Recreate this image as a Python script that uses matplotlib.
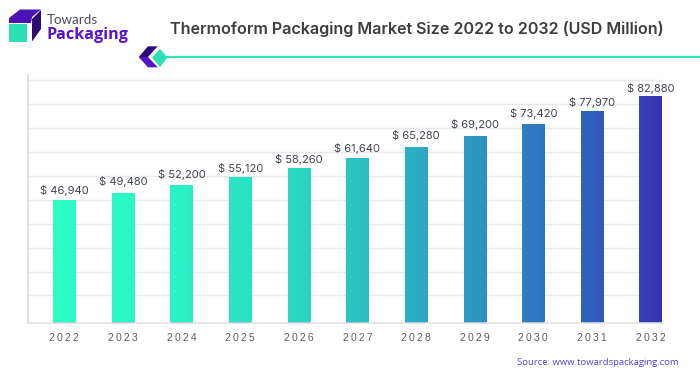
import numpy as np
import matplotlib
matplotlib.use('Agg')
import matplotlib.pyplot as plt
from matplotlib.colors import LinearSegmentedColormap
from matplotlib.patches import Polygon

years = ['2022', '2023', '2024', '2025', '2026', '2027', '2028', '2029', '2030', '2031', '2032']
values = [46940, 49480, 52200, 55120, 58260, 61640, 65280, 69200, 73420, 77970, 82880]
grid_values = [14460, 22407, 30700, 38993, 47286, 55580, 63873, 72166, 80460, 88753]
title = 'Thermoform Packaging Market Size 2022 to 2032 (USD Million)'
source = 'Source: www.towardspackaging.com'

# extra lift of each value label above its bar, in points
label_lift = [1.5, 2.2, 1.5, 0, 0, 0.7, 2.2, 2.2, 1.5, 0, 0]

W, H = 700, 375
fig = plt.figure(figsize=(W / 100, H / 100), dpi=100, facecolor='white')

# overlay in pixel coordinates for logo and header
bg = fig.add_axes([0, 0, 1, 1])
bg.set_xlim(0, W)
bg.set_ylim(H, 0)
bg.axis('off')

# main chart
ax = fig.add_axes([28 / W, (H - 322.5) / H, 634 / W, 247.5 / H])
ax.patch.set_alpha(0)
cmap = LinearSegmentedColormap.from_list('bars', [
    (0.0, '#2bffc6'), (0.2, '#2af0c6'), (0.4, '#29d4c2'), (0.6, '#2ca8c4'),
    (0.8, '#2f72bf'), (0.9, '#3255bb'), (1.0, '#3b2cb4')])

x = np.arange(len(years))
xlim = (-0.619, 10.196)
ylim = (5130, 90650)
bars = ax.bar(x, values, bottom=ylim[0], width=0.38, zorder=2)
for i, (bar, v) in enumerate(zip(bars, values)):
    bar.set_height(v - ylim[0])
    x0 = bar.get_x()
    x1 = x0 + bar.get_width()
    t0 = (x0 - x[0]) / (x[-1] - x[0] + 0.38)
    t1 = (x1 - x[0]) / (x[-1] - x[0] + 0.38)
    grad = np.linspace(t0, t1, 32).reshape(1, -1)
    ax.imshow(grad, extent=[x0, x1, ylim[0], v], aspect='auto', cmap=cmap,
              vmin=0, vmax=1, zorder=3)
    ax.annotate('$ {:,}'.format(v), (i, v), xytext=(0, 2.8 + label_lift[i]), textcoords='offset points',
                ha='center', va='bottom', fontsize=8.0, color='#3f4450', family='Inter', zorder=4)

ax.set_xlim(*xlim)
ax.set_ylim(*ylim)
ax.set_yticks(grid_values)
ax.set_yticklabels([])
ax.yaxis.grid(True, color='#e9e9e9', lw=1.0)
ax.set_axisbelow(True)
ax.tick_params(left=False, bottom=False)
ax.set_xticks(x)
ax.set_xticklabels([])
for i, y in enumerate(years):
    ax.annotate('\u2009'.join(y), (i, ylim[0]), xytext=(0, -7.8), textcoords='offset points',
                ha='center', va='top', fontsize=7.6, color='#5e5e62',
                family=['Liberation Sans', 'DejaVu Sans'], annotation_clip=False)
for s in ['top', 'right']:
    ax.spines[s].set_visible(False)
ax.spines['left'].set_color('#dcdcdc')
ax.spines['left'].set_linewidth(1.2)
ax.spines['bottom'].set_color('#e0e0e0')
ax.spines['bottom'].set_linewidth(1.1)

# header
bg.text(170, 29.2, title, fontsize=11.6, fontweight='semibold', family='Inter',
        color='#3d3d3d', ha='left', va='center')
bg.plot([165, W], [56.7, 56.7], color='#2fe3b6', lw=1.6, solid_capstyle='butt')
bg.add_patch(Polygon([(138.7, 57), (148, 46.3), (157.7, 46.3), (148, 57)], fc='#2d0a78', ec='none'))
bg.add_patch(Polygon([(138.7, 57), (148, 57), (157.7, 67.3), (148, 67.3)], fc='#5510c4', ec='none'))
bg.add_patch(Polygon([(152, 57.5), (160, 49), (167.5, 57.5), (160, 67)], fc='#2be0b4', ec='none'))

# logo
bg.add_patch(Polygon([(9, 18), (20, 9.5), (41, 9.5), (32, 17), (31, 23), (9, 23)], fc='#4b12b5', ec='none'))
bg.add_patch(Polygon([(32, 19), (41, 10), (41, 29), (32, 41.5)], fc='#2f0a70', ec='none'))
bg.add_patch(Polygon([(9, 24), (27, 24), (27, 41.5), (9, 41.5)], fc='#2be0b4', ec='none'))
bg.text(47, 19.5, 'Towards', fontsize=9.6, family='Lato', color='#4a4a55', ha='left', va='center')
bg.text(46.5, 35, 'Packaging', fontsize=11.6, fontweight='bold', family='Open Sans',
        color='#5a12cc', ha='left', va='center')

bg.text(517, 362.5, source, fontsize=6.8, fontweight='medium', family='Open Sans',
        color='#5b3fd0', ha='left', va='center')

fig.savefig('out.png', dpi=100, facecolor='white')
